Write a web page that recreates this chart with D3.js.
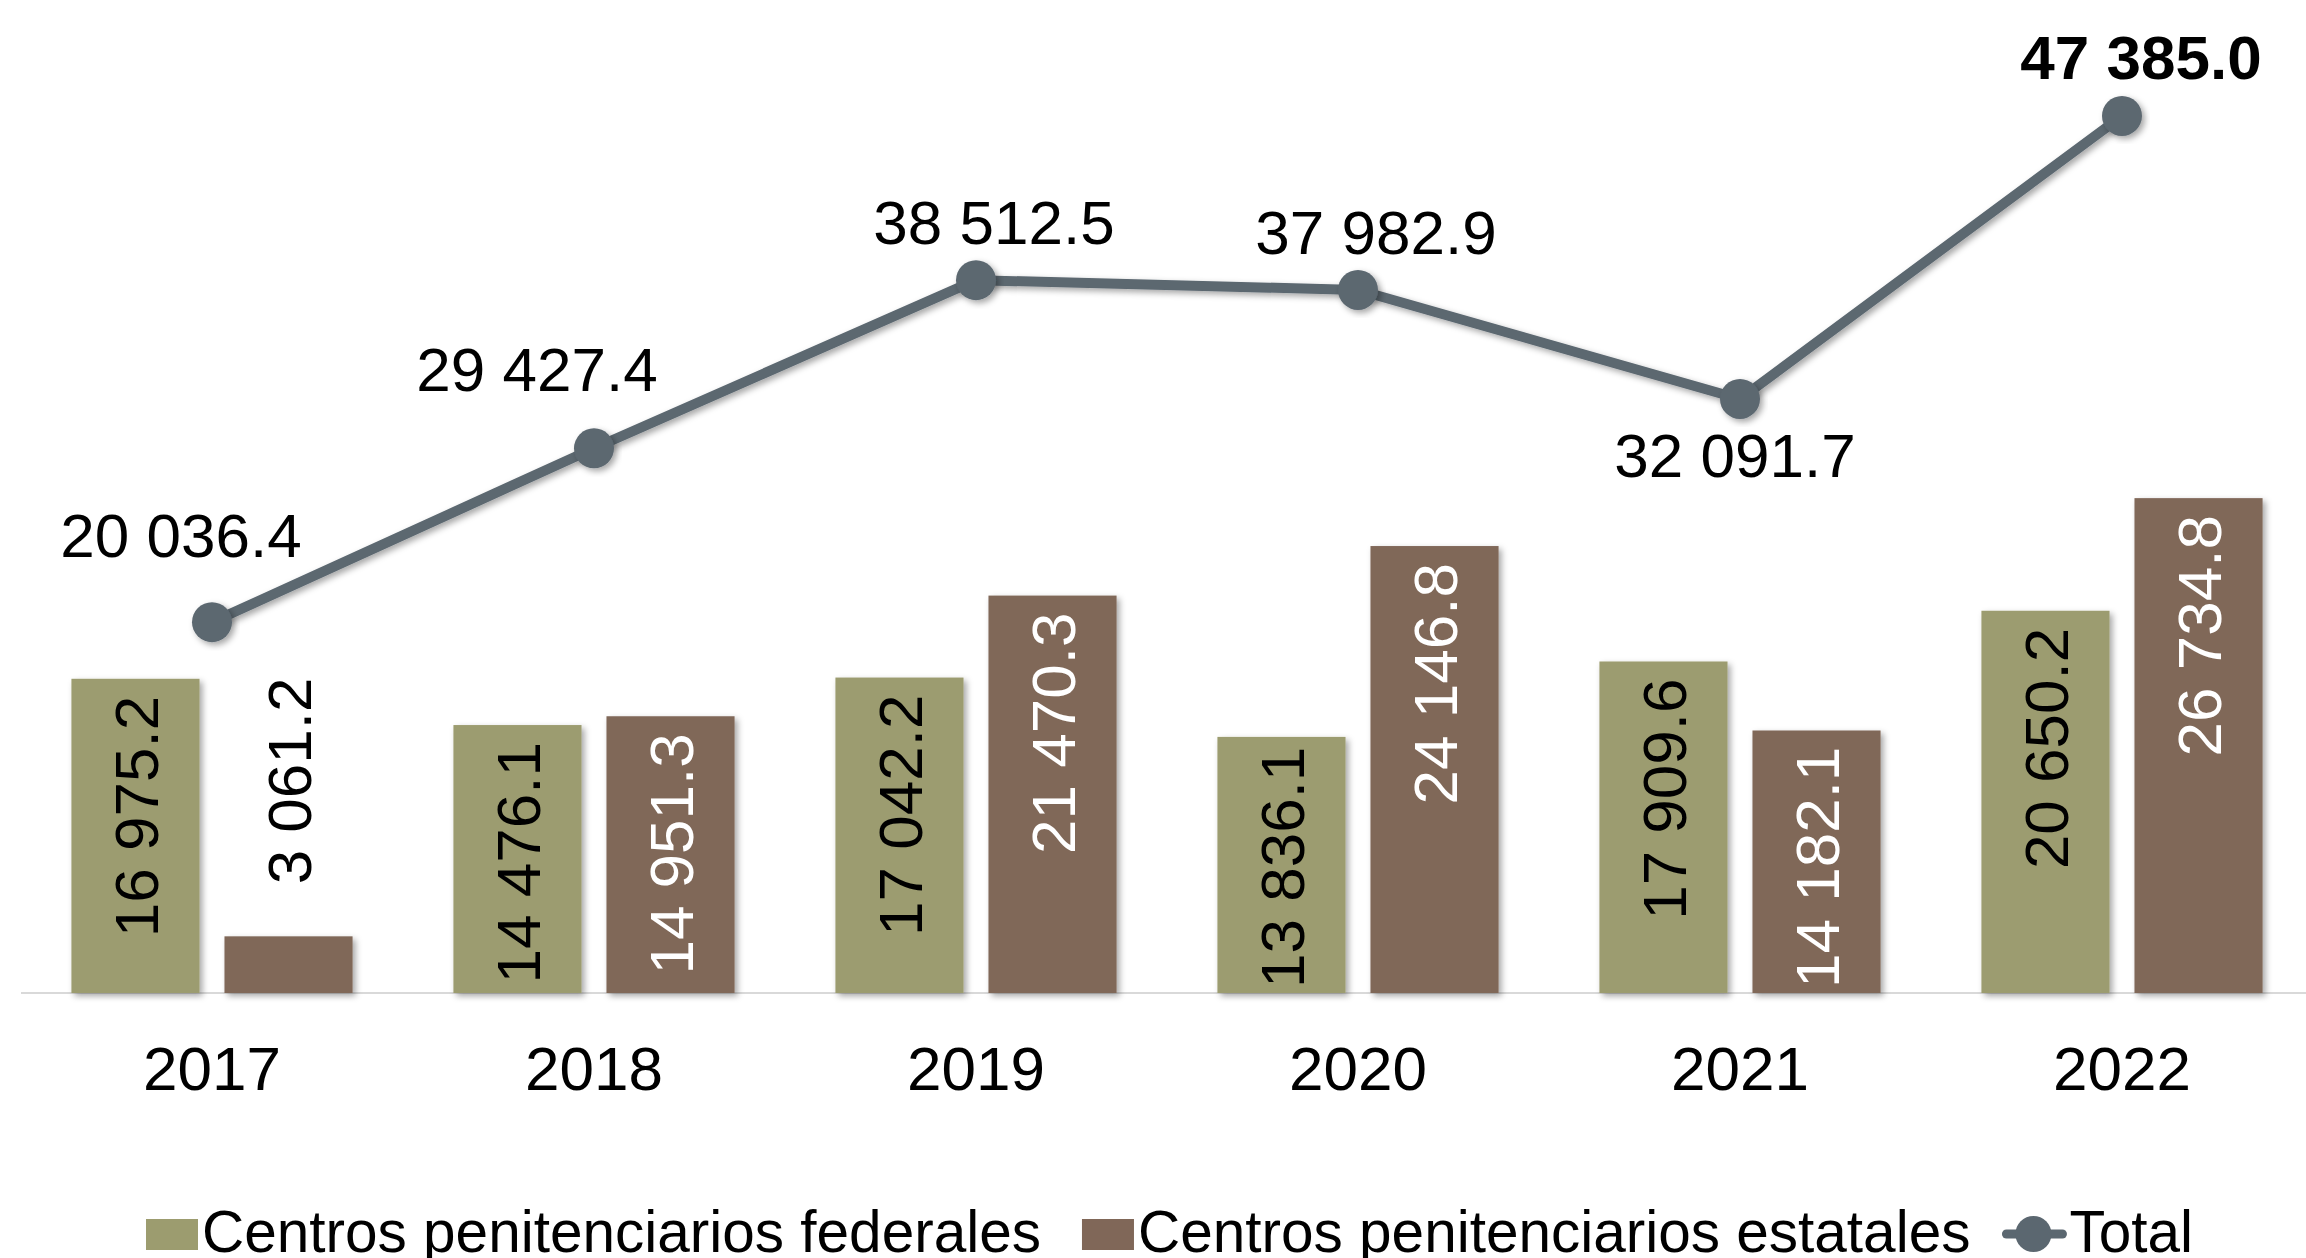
<!DOCTYPE html>
<html>
<head>
<meta charset="utf-8">
<script src="https://cdn.jsdelivr.net/npm/d3@7"></script>
<style>
  html, body { margin: 0; padding: 0; background: #fff; overflow: hidden; }
  svg { display: block; font-family: "Liberation Sans", Arial, sans-serif; }
</style>
</head>
<body>
<div id="chart"></div>
<script>
// Data
const years = ["2017", "2018", "2019", "2020", "2021", "2022"];
const federales = [16975.2, 14476.1, 17042.2, 13836.1, 17909.6, 20650.2];
const estatales = [3061.2, 14951.3, 21470.3, 24146.8, 14182.1, 26734.8];
const totales = [20036.4, 29427.4, 38512.5, 37982.9, 32091.7, 47385.0];
const seriesNames = ["Centros penitenciarios federales", "Centros penitenciarios estatales", "Total"];

// label nudges for the total line (dx, dy from the point), as placed in the original
const totalLabelDx = [-31, -57, 18, 18, -5, 19];
const totalLabelDy = [-65, -57, -36, -36, 78, -37];

const W = 2306, H = 1258;
const colorFed = "#9C9C6F", colorEst = "#806758", colorTotal = "#5B6770";

// number format with a space as thousands separator
const fmt = v => d3.format(",.1f")(v).replace(/,/g, " ");

const svg = d3.select("#chart").append("svg")
    .attr("width", W)
    .attr("height", H);

// shadows
const defs = svg.append("defs");
defs.append("filter").attr("id", "shadow")
    .attr("x", "-20%").attr("y", "-20%").attr("width", "140%").attr("height", "140%")
  .append("feDropShadow")
    .attr("dx", 3).attr("dy", 3).attr("stdDeviation", 3)
    .attr("flood-color", "#000").attr("flood-opacity", 0.35);

// Scales
const x0 = d3.scaleBand()
    .domain(years)
    .range([21, 2313])
    .paddingInner(0.264)
    .paddingOuter(0.132);

const x1 = d3.scaleBand()
    .domain([0, 1])
    .range([0, x0.bandwidth()])
    .paddingInner(0.163);

const y = d3.scaleLinear()
    .domain([0, 50000])
    .range([993, 993 - 50000 * 0.01851]);

const center = d => x0(d) + x0.bandwidth() / 2;

// X axis
const xAxis = svg.append("g")
    .attr("transform", `translate(0, ${y(0)})`)
    .call(d3.axisBottom(x0).tickSize(0).tickPadding(50));
xAxis.select(".domain").remove();
xAxis.selectAll("text")
    .attr("font-size", "62px")
    .attr("font-family", "Liberation Sans, Arial, sans-serif")
    .attr("fill", "#000")
    .attr("dy", "0.75em");
svg.append("line")
    .attr("x1", 21).attr("x2", W)
    .attr("y1", y(0)).attr("y2", y(0))
    .attr("stroke", "#D9D9D9").attr("stroke-width", 2);

// Bars
const barData = [];
years.forEach((yr, i) => {
    barData.push({year: yr, s: 0, value: federales[i]});
    barData.push({year: yr, s: 1, value: estatales[i]});
});

svg.append("g")
    .selectAll("rect")
    .data(barData)
    .join("rect")
    .attr("x", d => x0(d.year) + x1(d.s))
    .attr("y", d => y(d.value))
    .attr("width", x1.bandwidth())
    .attr("height", d => y(0) - y(d.value))
    .attr("fill", d => d.s === 0 ? colorFed : colorEst)
    .attr("filter", "url(#shadow)");

// Bar labels, rotated
const barLabels = svg.append("g")
    .selectAll("text")
    .data(barData)
    .join("text")
    .attr("font-size", "62px")
    .attr("dy", "0.36em")
    .text(d => fmt(d.value));

barLabels.each(function(d) {
    const t = d3.select(this);
    const len = this.getComputedTextLength();
    const cx = x0(d.year) + x1(d.s) + x1.bandwidth() / 2;
    const top = y(d.value);
    const barH = y(0) - top;
    let startY, fill;
    if (barH < len * 0.6) {
        // too short: label sits above the bar
        startY = top - 52;
        fill = "#000";
    } else {
        startY = Math.min(top + 17 + len, y(0) - 5);
        fill = d.s === 0 ? "#000" : "#fff";
    }
    t.attr("transform", `translate(${cx}, ${startY}) rotate(-90)`)
        .attr("text-anchor", "start")
        .attr("fill", fill);
});

// Total line
const line = d3.line()
    .x((d, i) => center(years[i]))
    .y(d => y(d));

svg.append("path")
    .datum(totales)
    .attr("fill", "none")
    .attr("stroke", colorTotal)
    .attr("stroke-width", 10)
    .attr("stroke-linejoin", "round")
    .attr("filter", "url(#shadow)")
    .attr("d", line);

svg.append("g")
    .selectAll("circle")
    .data(totales)
    .join("circle")
    .attr("cx", (d, i) => center(years[i]))
    .attr("cy", d => y(d))
    .attr("r", 20)
    .attr("fill", colorTotal)
    .attr("filter", "url(#shadow)");

svg.append("g")
    .selectAll("text")
    .data(totales)
    .join("text")
    .attr("x", (d, i) => center(years[i]) + totalLabelDx[i])
    .attr("y", (d, i) => y(d) + totalLabelDy[i])
    .attr("text-anchor", "middle")
    .attr("font-size", "62px")
    .attr("font-weight", (d, i) => i === totales.length - 1 ? "bold" : "normal")
    .attr("fill", "#000")
    .text(d => fmt(d));

// Legend (sits on the bottom edge, as in the original)
const legend = svg.append("g").attr("font-size", "58.5px");
const legY = 1252;
let lx = 146;

legend.append("rect").attr("x", lx).attr("y", 1219).attr("width", 52).attr("height", 31).attr("fill", colorFed);
let t1 = legend.append("text").attr("x", lx + 56).attr("y", legY).text(seriesNames[0]);
lx = lx + 56 + t1.node().getComputedTextLength() + 41;

legend.append("rect").attr("x", lx).attr("y", 1219).attr("width", 52).attr("height", 31).attr("fill", colorEst);
let t2 = legend.append("text").attr("x", lx + 56).attr("y", legY).text(seriesNames[1]);
lx = lx + 56 + t2.node().getComputedTextLength() + 32;

legend.append("line")
    .attr("x1", lx + 4).attr("x2", lx + 60)
    .attr("y1", 1234).attr("y2", 1234)
    .attr("stroke", colorTotal).attr("stroke-width", 9).attr("stroke-linecap", "round");
legend.append("circle").attr("cx", lx + 31).attr("cy", 1234).attr("r", 18).attr("fill", colorTotal);
legend.append("text").attr("x", lx + 67).attr("y", legY).text(seriesNames[2]);
</script>
</body>
</html>
